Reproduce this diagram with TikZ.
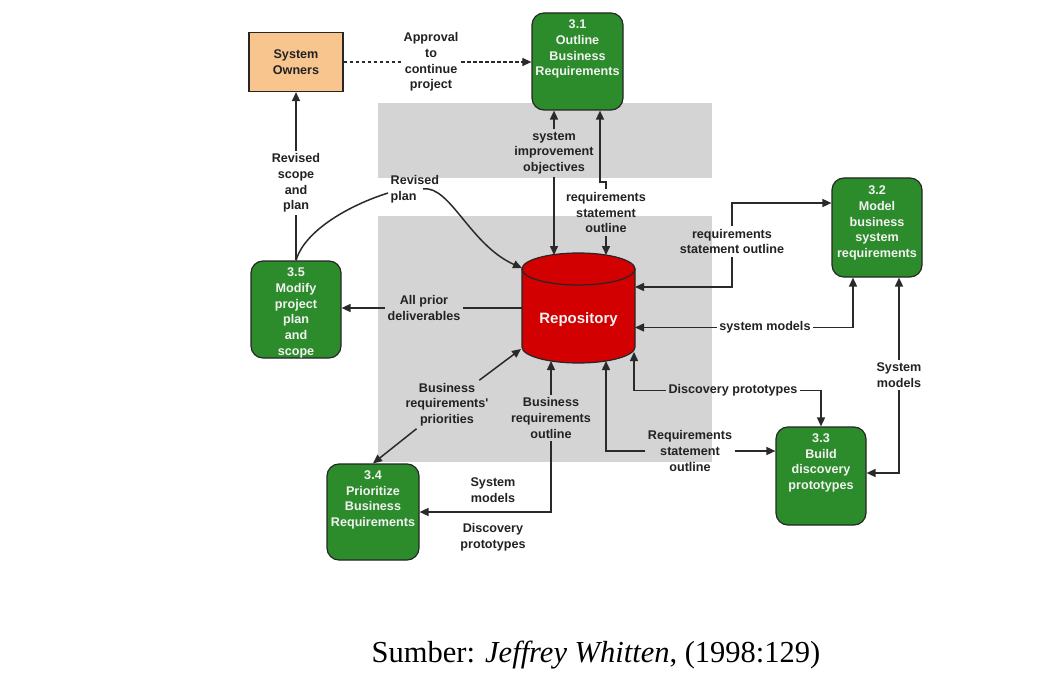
\documentclass[tikz,border=0pt]{standalone}
\usepackage{fontspec}
\setmainfont{Liberation Serif}
\newfontfamily\lab{Liberation Sans}
\usetikzlibrary{arrows.meta}
\definecolor{lnc}{HTML}{2A2A2A}
\definecolor{grn}{HTML}{2C8C2C}
\definecolor{peach}{HTML}{F8C58F}
\definecolor{redc}{HTML}{D20000}
\definecolor{grayr}{HTML}{D4D4D4}
\definecolor{txtc}{HTML}{222222}
\definecolor{wtxt}{HTML}{F2F2F2}
\begin{document}
\begin{tikzpicture}[x=1pt,y=-1pt,
  conn/.style={draw=lnc, line width=1.5pt},
  dsh/.style={draw=lnc, line width=1.1pt, dash pattern=on 3.5pt off 2.5pt},
  >={Triangle[length=9pt,width=8pt]},
  lbl/.style={font=\lab\bfseries\fontsize{12.6}{15.7}\selectfont, text=txtc, align=center, inner sep=2.5pt},
  procbox/.style={draw=black!85, line width=1.2pt, fill=grn, rounded corners=12pt},
  proctext/.style={font=\lab\bfseries\fontsize{12.6}{15.7}\selectfont, text=wtxt, align=center, inner sep=0pt, anchor=north},
]
\useasboundingbox (0,0) rectangle (1058,690);
\fill[white] (0,0) rectangle (1058,690);
% background grey panels
\fill[grayr] (378,103) rectangle (712,178);
\fill[grayr] (378,216) rectangle (712,462);

% external entity
\node[draw=black!85, line width=1.2pt, fill=peach, minimum width=94pt, minimum height=59pt,
      font=\lab\bfseries\fontsize{12.6}{15.7}\selectfont, text=txtc, align=center] (so) at (296,62) {System\\Owners};

% processes
\node[procbox, minimum width=91pt, minimum height=97pt] (p31) at (577.5,61.5) {};
\node[proctext] at ([yshift=-7.5pt]p31.north) {3.1\\Outline\\Business\\Requirements};
\node[procbox, minimum width=90pt, minimum height=99pt] (p32) at (877,227.5) {};
\node[proctext] at ([yshift=-8.5pt]p32.north) {3.2\\Model\\business\\system\\requirements};
\node[procbox, minimum width=90pt, minimum height=98pt] (p33) at (821,476) {};
\node[proctext] at ([yshift=-7pt]p33.north) {3.3\\Build\\discovery\\prototypes};
\node[procbox, minimum width=92pt, minimum height=96pt] (p34) at (373,512) {};
\node[proctext] at ([yshift=-7pt]p34.north) {3.4\\Prioritize\\Business\\Requirements};
\node[procbox, minimum width=90pt, minimum height=97pt] (p35) at (296,309.5) {};
\node[proctext] at ([yshift=-7.5pt]p35.north) {3.5\\Modify\\project\\plan\\and\\scope};

% repository cylinder
\filldraw[fill=redc, draw=black!85, line width=1.2pt] (522,269) -- (522,347)
  arc[start angle=180, end angle=360, x radius=56.5pt, y radius=16pt] -- (635,269) -- cycle;
\filldraw[fill=redc, draw=black!85, line width=1.2pt] (578.5,269) ellipse [x radius=56.5pt, y radius=16pt];
\node[font=\lab\bfseries\fontsize{15}{18}\selectfont, text=wtxt] (repo) at (578.5,319.5) {Repository};
\coordinate (rTa) at (554,255);
\coordinate (rTb) at (606,255);
\coordinate (rLt) at (522,268);
\coordinate (rL) at (522,308);
\coordinate (rR1) at (635,287);
\coordinate (rR2) at (635,327.5);
\coordinate (rB1) at (634,352);
\coordinate (rB2) at (606,361);
\coordinate (rB3) at (521,349);
\coordinate (rB4) at (551,361);
\coordinate (j1) at (600,182);

% labels
\node[lbl] (lApp) at (431,62) {Approval\\to\\continue\\project};
\node[lbl] (lRsp) at (296,183) {Revised\\scope\\and\\plan};
\node[lbl, align=left, anchor=west] (lRp) at (388,189) {Revised\\plan};
\node[lbl] (lSio) at (554,153) {system\\improvement\\objectives};
\node[lbl] (lRso1) at (606,212.5) {requirements\\statement\\outline};
\node[lbl] (lRso2) at (732,241.5) {requirements\\statement outline};
\node[lbl] (lSm1) at (765,327.5) {system models};
\node[lbl] (lSm2) at (899,375) {System\\models};
\node[lbl] (lDp) at (733,390.5) {Discovery prototypes};
\node[lbl] (lRso3) at (690,451) {Requirements\\statement\\outline};
\node[lbl] (lBrp) at (447,404.5) {Business\\requirements'\\priorities};
\node[lbl] (lBro) at (551,418) {Business\\requirements\\outline};
\node[lbl] (lSm3) at (493,490) {System\\models};
\node[lbl] (lDp2) at (493,537) {Discovery\\prototypes};
\node[lbl] (lApd) at (424,308) {All prior\\deliverables};

% connectors
\draw[dsh] (so) -- (lApp);
\draw[dsh,->] (lApp) -- (lApp -| p31.west);
\draw[conn] (p35) -- (lRsp);
\draw[conn,->] (lRsp) -- (so);
\draw[conn] (p35.north) .. controls (305,230) and (350,205) .. ([yshift=-4pt]lRp.west);
\draw[conn,->] ([xshift=35pt]lRp.west) .. controls (450,185) and (470,245) .. (rLt);
\draw[conn,->] (lSio) -- (lSio |- p31.south);
\draw[conn,->] (lSio) -- (rTa);
\draw[conn,->] (lRso1.north) |- (j1) -- (j1 |- p31.south);
\draw[conn,->] (lRso1) -- (rTb);
\draw[conn,->] (lRso2) |- ([yshift=24.5pt]p32.west);
\draw[conn,->] (lRso2) |- (rR1);
\draw[conn,->] (lSm1) -- (rR2);
\draw[conn,->] (lSm1) -| ([xshift=-24pt]p32.south);
\draw[conn,->] (lSm2) -- (lSm2 |- p32.south);
\draw[conn,->] (lSm2) |- ([yshift=3pt]p33.east);
\draw[conn,->] (lDp) -| (rB1);
\draw[conn,->] (lDp) -| (p33.north);
\draw[conn,->] (lRso3) -| (rB2);
\draw[conn,->] (lRso3) -- (lRso3 -| p33.west);
\draw[conn,->] (lBrp) -- (p34.north);
\draw[conn,->] (lBrp) -- (rB3);
\draw[conn,->] (lBro) -- (rB4);
\draw[conn,->] (lBro) |- (p34.east);
\draw[conn] (rL) -- (lApd);
\draw[conn,->] (lApd) -- (lApd -| p35.east);

% caption
\node[font=\fontsize{30.5}{36}\selectfont, anchor=base, inner sep=0pt] (cap) at (596,662) {Sumber: \textit{Jeffrey Whitten}, (1998:129)};
\end{tikzpicture}
\end{document}
